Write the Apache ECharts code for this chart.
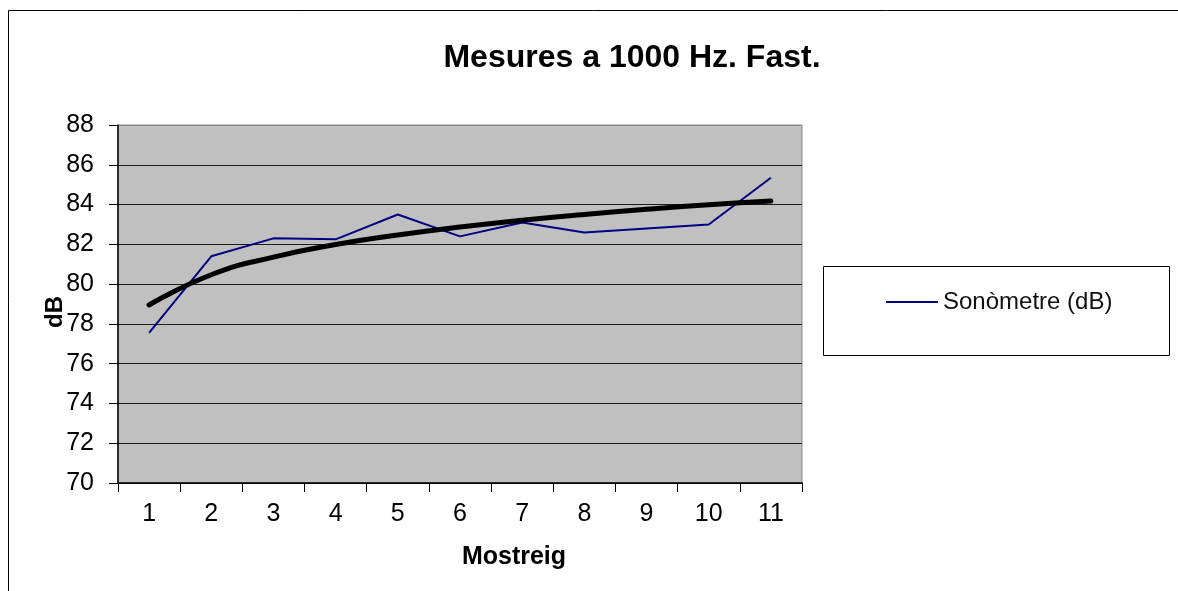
<!DOCTYPE html>
<html>
<head>
<meta charset="utf-8">
<script src="https://cdn.jsdelivr.net/npm/echarts@6/dist/echarts.min.js"></script>
<style>
  html, body { margin: 0; padding: 0; background: #fff; }
  #chart { width: 1178px; height: 591px; }
</style>
</head>
<body>
<div id="chart"></div>
<script>
// Sample numbers along the x axis
const categories = ['1', '2', '3', '4', '5', '6', '7', '8', '9', '10', '11'];
// Sound level meter readings (dB)
const sonometre = [77.55, 81.4, 82.3, 82.25, 83.5, 82.4, 83.1, 82.6, 82.8, 83.0, 85.35];
// Logarithmic trend through the readings
const tendencia = [78.95, 80.47, 81.36, 81.99, 82.47, 82.87, 83.21, 83.5, 83.76, 83.99, 84.18];
const yTicks = { min: 70, max: 88, step: 2 };

const FONT = '"Liberation Sans", Arial, sans-serif';

const chart = echarts.init(document.getElementById('chart'), null, { renderer: 'canvas' });

const gridLineColors = [];
for (let v = yTicks.min; v <= yTicks.max; v += yTicks.step) {
  gridLineColors.push(v === yTicks.max ? '#8a8a8a' : '#1e1e1e');
}

chart.setOption({
  backgroundColor: '#ffffff',
  animation: false,
  title: {
    text: 'Mesures a 1000 Hz. Fast.',
    left: 627,
    textAlign: 'center',
    top: 37,
    textStyle: { fontFamily: FONT, fontSize: 32, fontWeight: 'bold', color: '#000' }
  },
  legend: {
    data: ['Sonòmetre (dB)'],
    left: 881,
    top: 285,
    icon: 'rect',
    itemWidth: 52,
    itemHeight: 2,
    itemGap: 5,
    textStyle: { fontFamily: FONT, fontSize: 24, color: '#111' },
    selectedMode: false
  },
  graphic: [
    {
      type: 'rect',
      shape: { x: 8.5, y: 10.5, width: 1300, height: 700 },
      style: { fill: 'none', stroke: '#000', lineWidth: 1 },
      silent: true,
      z: -10
    },
    {
      type: 'rect',
      shape: { x: 823.5, y: 266.5, width: 346, height: 89 },
      style: { fill: '#fff', stroke: '#000', lineWidth: 1 },
      silent: true,
      z: -5
    }
  ],
  grid: {
    left: 118,
    right: 376,
    top: 125,
    bottom: 108,
    show: true,
    backgroundColor: '#C0C0C0',
    borderColor: '#8a8a8a',
    borderWidth: 1
  },
  xAxis: {
    type: 'category',
    data: categories,
    boundaryGap: true,
    name: 'Mostreig',
    nameLocation: 'middle',
    nameGap: 62,
    nameMoveOverlap: false,
    nameTextStyle: { fontFamily: FONT, fontSize: 25, fontWeight: 'bold', color: '#000', padding: [0, 0, 0, 108] },
    axisLine: { show: true, lineStyle: { color: '#000', width: 1.5 } },
    axisTick: { show: true, interval: 0, length: 9, lineStyle: { color: '#000' } },
    axisLabel: { interval: 0, margin: 19, fontFamily: FONT, fontSize: 25, color: '#000' },
    splitLine: { show: false }
  },
  yAxis: {
    type: 'value',
    min: yTicks.min,
    max: yTicks.max,
    interval: yTicks.step,
    name: 'dB',
    nameLocation: 'middle',
    nameRotate: 90,
    nameGap: 51,
    nameMoveOverlap: false,
    nameTextStyle: { fontFamily: FONT, fontSize: 24, fontWeight: 'bold', color: '#000', padding: [0, 16, 0, 0] },
    axisLine: { show: true, lineStyle: { color: '#000', width: 1.5 } },
    axisTick: { show: true, length: 9, lineStyle: { color: '#000' } },
    axisLabel: { margin: 24, fontFamily: FONT, fontSize: 25, color: '#000' },
    splitLine: { show: true, lineStyle: { color: gridLineColors, width: 1 } }
  },
  series: [
    {
      name: 'Sonòmetre (dB)',
      type: 'line',
      data: sonometre,
      symbol: 'none',
      lineStyle: { color: '#000080', width: 2 },
      itemStyle: { color: '#000080' },
      z: 2
    },
    {
      name: 'Tendència',
      type: 'line',
      data: tendencia,
      smooth: true,
      symbol: 'none',
      lineStyle: { color: '#000', width: 5, cap: 'round' },
      itemStyle: { color: '#000' },
      silent: true,
      z: 3
    }
  ]
});
</script>
</body>
</html>
